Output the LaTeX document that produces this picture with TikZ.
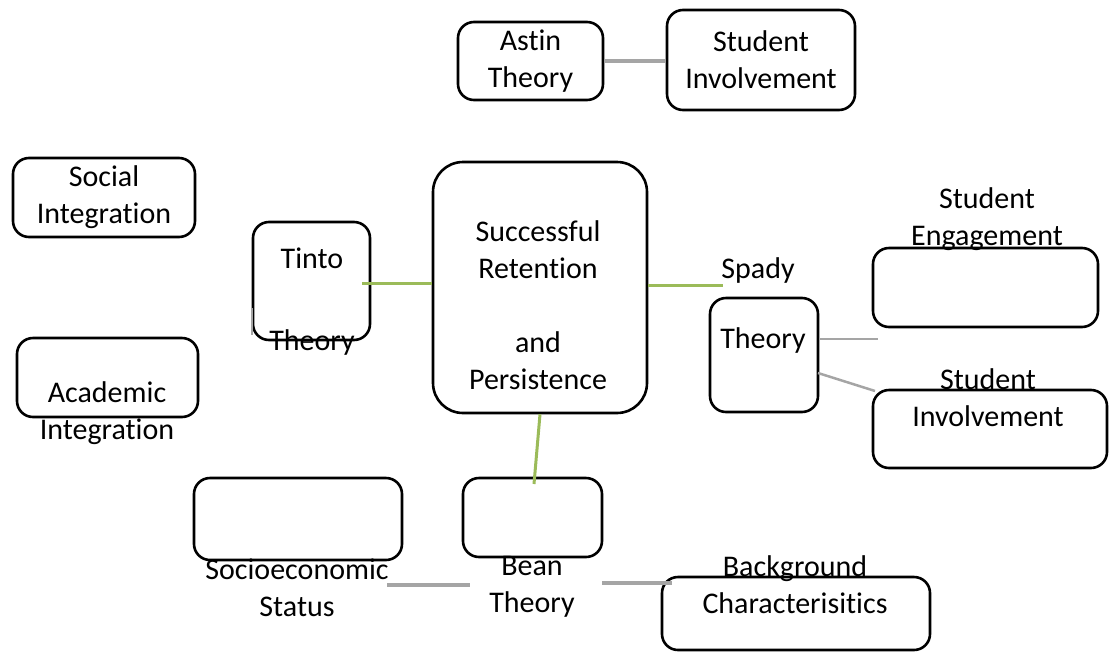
\documentclass[tikz,border=0pt]{standalone}
\usepackage{fontspec}
\setmainfont{Carlito}[Ligatures=CommonOff]
\usetikzlibrary{positioning}
\definecolor{linkgreen}{HTML}{9BBB59}
\definecolor{linkgray}{HTML}{A5A5A5}

\begin{document}
\begin{tikzpicture}[x=1pt,y=-1pt,
  every node/.style={font=\fontsize{30}{37}\selectfont},
  box/.style={draw,line width=2.6pt,rounded corners=16pt,inner sep=0pt,align=center},
  label text/.style={align=center,inner sep=0pt},
  green link/.style={draw=linkgreen,line width=3pt},
  gray link/.style={draw=linkgray,line width=4pt},
  thin gray link/.style={draw=linkgray,line width=2.5pt}]
\useasboundingbox (0,0) rectangle (1109,654);

% define the boxes
  \node[box,minimum width=145pt,minimum height=78pt]  (astin)    at (530.5,61)   {Astin\\Theory};
  \node[box,minimum width=188pt,minimum height=100pt] (involveA) at (761,60)     {Student\\Involvement};
  \node[box,minimum width=182pt,minimum height=79pt]  (social)   at (104,197.5)  {Social\\Integration};
  \node[box,minimum width=181pt,minimum height=79pt]  (academic) at (107.5,377.5) {};
  \node[box,minimum width=117pt,minimum height=118pt] (tinto)    at (311.5,281)  {};
  \node[box,minimum width=214pt,minimum height=251pt,rounded corners=30pt] (retention) at (540,287.5) {};
  \node[box,minimum width=108pt,minimum height=114pt] (spady)    at (764,355)    {};
  \node[box,minimum width=225pt,minimum height=79pt]  (engage)   at (985.5,287.5) {};
  \node[box,minimum width=234pt,minimum height=78pt]  (involveB) at (990,429)    {};
  \node[box,minimum width=139pt,minimum height=79pt]  (bean)     at (532.5,517.5) {};
  \node[box,minimum width=208pt,minimum height=82pt]  (socio)    at (298,519)    {};
  \node[box,minimum width=268pt,minimum height=73pt]  (background) at (796,613.5) {};

% define the texts beside the boxes
  \node[label text] (academicT)   at (107,413)   {Academic\\Integration};
  \node[label text] (tintoT)      at (312,258)   {Tinto};
  \node[label text] (tintoB)      at (312,342)   {Theory};
  \node[label text] (retentionT)  at (538,305)   {Successful\\Retention\\[37pt]and\\Persistence};
  \node[label text] (spadyT)      at (758,270)   {Spady};
  \node[label text] (spadyB)      at (763,340)   {Theory};
  \node[label text] (engageT)     at (987,219)   {Student\\Engagement};
  \node[label text] (involveBT)   at (988,397.5) {Student\\Involvement};
  \node[label text] (beanT)       at (532,586.5) {Bean\\Theory};
  \node[label text] (socioT)      at (297,587.5) {Socioeconomic\\Status};
  \node[label text] (backgroundT) at (795,585)   {Background\\Characterisitics};

% free ends of the links
  \coordinate (tintoEnd)  at (362,283);
  \coordinate (spadyEnd)  at (723,285);
  \coordinate (beanEnd)   at (534,484);
  \coordinate (spadyOut)  at (878,339);
  \coordinate (spadyLow)  at (818,373);
  \coordinate (involveIn) at (875,391);
  \coordinate (tintoTop)  at (251.5,308);
  \coordinate (tintoBot)  at (251.5,335);
  \coordinate (socioEnd)  at (387,585);
  \coordinate (beanLeft)  at (470,585);
  \coordinate (beanRight) at (602,583);
  \coordinate (backEnd)   at (672,583);

% define the links
  \draw[gray link] (astin.east) -- (involveA.west |- astin.east);
  \draw[green link] (tintoEnd) -- (tintoEnd -| retention.west);
  \draw[green link] (spadyEnd -| retention.east) -- (spadyEnd);
  \draw[green link] (retention.south) -- (beanEnd);
  \draw[thin gray link] (spadyOut -| spady.east) -- (spadyOut);
  \draw[thin gray link] (spadyLow) -- (involveIn);
  \draw[draw=linkgray,line width=2pt] (tintoTop) -- (tintoBot);
  \draw[gray link] (socioEnd) -- (beanLeft);
  \draw[gray link] (beanRight) -- (backEnd);
\end{tikzpicture}
\end{document}
